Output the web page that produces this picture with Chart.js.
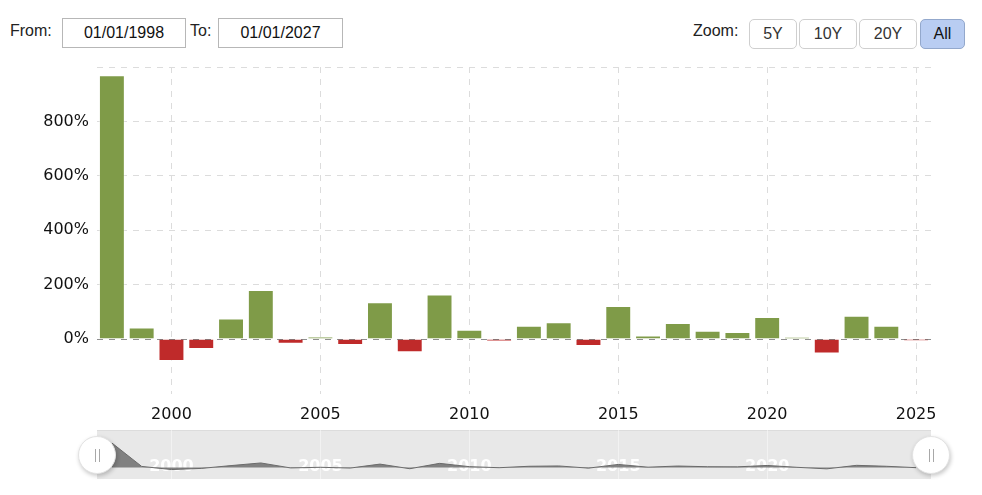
<!DOCTYPE html>
<html>
<head>
<meta charset="utf-8">
<script src="https://cdn.jsdelivr.net/npm/chart.js@4.4.1/dist/chart.umd.min.js"></script>
<style>
  html, body { margin: 0; padding: 0; background: #fff; }
  body { width: 982px; height: 495px; position: relative; overflow: hidden; font-family: "Liberation Sans", Arial, sans-serif; }
  .lbl { position: absolute; top: 22px; font-size: 16px; color: #222; }
  .inp { position: absolute; top: 18px; height: 28px; border: 1px solid #b7b7b7; font-size: 16px; line-height: 28px; text-align: center; color: #111; }
  .btn { position: absolute; top: 19px; height: 30px; box-sizing: border-box; border: 1px solid #cfcfcf; border-radius: 5px; font-size: 16px; line-height: 28px; text-align: center; color: #333; background: #fff; }
  .btn.on { background: #b9cdf2; border-color: #93a8cc; color: #111; }
  #main { position: absolute; left: 0; top: 0; width: 982px; height: 430px; }
  #navBg { position: absolute; left: 97px; top: 430px; width: 834px; height: 49px; background: #e8e8e8; border-top: 1px solid #dcdcdc; box-sizing: border-box; }
  #nav { position: absolute; left: 0; top: 430px; width: 982px; height: 65px; }
  .handle { position: absolute; top: 436px; width: 38px; height: 38px; border-radius: 50%; background: #fff; border: 1px solid #e2e2e2; box-sizing: border-box; box-shadow: 1px 2px 4px rgba(0,0,0,0.22); z-index: 5; }
  .handle::before, .handle::after { content: ""; position: absolute; top: 12px; width: 1px; height: 13px; background: #a8a8a8; }
  .handle::before { left: 16px; }
  .handle::after { left: 20px; }
</style>
</head>
<body>
<div class="lbl" style="left:10px">From:</div>
<div class="inp" style="left:62px;width:122px">01/01/1998</div>
<div class="lbl" style="left:190px">To:</div>
<div class="inp" style="left:218px;width:123px">01/01/2027</div>

<div class="lbl" style="left:693px">Zoom:</div>
<div class="btn" style="left:749px;width:48px">5Y</div>
<div class="btn" style="left:799px;width:58px">10Y</div>
<div class="btn" style="left:859px;width:58px">20Y</div>
<div class="btn on" style="left:920px;width:45px">All</div>

<div id="main"><canvas id="chart-main"></canvas></div>
<div id="navBg"></div>
<div id="nav"><canvas id="chart-nav"></canvas></div>
<div class="handle" style="left:78px"></div>
<div class="handle" style="left:912px"></div>

<script>
// yearly change, %
const years = ["1998", "1999", "2000", "2001", "2002", "2003", "2004", "2005", "2006", "2007",
               "2008", "2009", "2010", "2011", "2012", "2013", "2014", "2015", "2016", "2017",
               "2018", "2019", "2020", "2021", "2022", "2023", "2024", "2025"];
const changes = [970, 43, -81, -36, 76, 180, -17, 9, -22, 135,
                 -48, 164, 34, -8, 49, 62, -25, 122, 13, 59,
                 31, 26, 81, 8, -53, 86, 49, -6];
const xTickYears = ["2000", "2005", "2010", "2015", "2020", "2025"];
const navTickYears = ["2000", "2005", "2010", "2015", "2020"];
const yTickValues = [0, 200, 400, 600, 800];

const UP = "#7f9b48";
const DOWN = "#bf2a2a";
const FONT = "DejaVu Sans";

// dashed zero line drawn over the bars
const zeroLine = {
    id: "zeroLine",
    afterDatasetsDraw(chart) {
        const y = chart.scales.y.getPixelForValue(0);
        const { left, right } = chart.chartArea;
        const ctx = chart.ctx;
        ctx.save();
        ctx.strokeStyle = "rgba(0,0,0,0.35)";
        ctx.lineWidth = 1;
        ctx.setLineDash([6, 6]);
        ctx.beginPath();
        ctx.moveTo(left, Math.round(y) + 0.5);
        ctx.lineTo(right, Math.round(y) + 0.5);
        ctx.stroke();
        ctx.restore();
    },
};

new Chart(document.getElementById("chart-main").getContext("2d"), {
    type: "bar",
    data: {
        labels: years,
        datasets: [{
            data: changes,
            backgroundColor: changes.map(v => (v >= 0 ? UP : DOWN)),
            borderColor: "rgba(255,255,255,0.4)",
            borderWidth: 1,
            barPercentage: 0.87,
            categoryPercentage: 1,
        }],
    },
    options: {
        responsive: true,
        maintainAspectRatio: false,
        animation: false,
        layout: { padding: { left: 0, right: 51, top: 67, bottom: 0 } },
        plugins: { legend: { display: false }, tooltip: { enabled: false } },
        scales: {
            x: {
                offset: true,
                grid: {
                    offset: false,
                    drawTicks: false,
                    color: (c) => (xTickYears.includes(years[c.index]) ? "#dcdcdc" : "rgba(0,0,0,0)"),
                },
                border: { display: false, dash: [6, 6] },
                ticks: {
                    autoSkip: false,
                    maxRotation: 0,
                    padding: 12,
                    color: "#111",
                    font: { family: FONT, size: 16 },
                    callback: (val, i) => (xTickYears.includes(years[i]) ? years[i] : ""),
                },
                afterFit: (s) => { s.height = 36.5; },
            },
            y: {
                min: -200,
                max: 1000,
                ticks: {
                    stepSize: 200,
                    padding: 8,
                    color: "#111",
                    font: { family: FONT, size: 16 },
                    callback: (v) => (yTickValues.includes(v) ? v + "%" : ""),
                },
                grid: {
                    drawTicks: false,
                    color: (c) => (c.tick && c.tick.value > -200 ? "#dcdcdc" : "rgba(0,0,0,0)"),
                },
                border: { display: false, dash: [6, 6] },
                afterFit: (s) => { s.width = 97; },
            },
        },
    },
    plugins: [zeroLine],
});

// navigator below the chart
new Chart(document.getElementById("chart-nav").getContext("2d"), {
    type: "line",
    data: {
        labels: years,
        datasets: [{
            data: changes,
            fill: "origin",
            backgroundColor: "rgba(110,110,110,0.85)",
            borderColor: "#6a6a6a",
            borderWidth: 1,
            pointRadius: 0,
            tension: 0,
        }],
    },
    options: {
        responsive: true,
        maintainAspectRatio: false,
        animation: false,
        layout: { padding: { left: 97, right: 51, top: 0, bottom: 0 } },
        plugins: { legend: { display: false }, tooltip: { enabled: false } },
        scales: {
            x: {
                offset: true,
                z: 1,
                border: { display: false },
                grid: {
                    offset: false,
                    drawTicks: false,
                    z: -1,
                    color: (c) => (navTickYears.includes(years[c.index]) ? "rgba(255,255,255,0.45)" : "rgba(0,0,0,0)"),
                },
                ticks: {
                    mirror: true,
                    autoSkip: false,
                    maxRotation: 0,
                    padding: 3,
                    color: "#ffffff",
                    font: { family: FONT, size: 16, weight: "bold" },
                    callback: (val, i) => (navTickYears.includes(years[i]) ? years[i] : ""),
                },
                afterFit: (s) => { s.height = 16; },
            },
            y: { display: false, min: -455, max: 1485 },
        },
    },
});
</script>
</body>
</html>
